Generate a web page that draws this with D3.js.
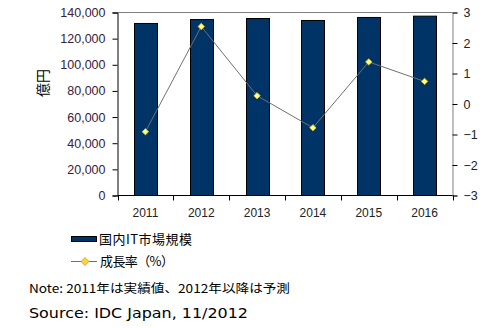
<!DOCTYPE html>
<html><head><meta charset="utf-8">
<script src="https://cdn.jsdelivr.net/npm/d3@7/dist/d3.min.js"></script>
<style>body{margin:0;background:#fff}svg{display:block}</style>
</head><body><svg id="c" width="499" height="328"></svg>
<script>
const years = ["2011","2012","2013","2014","2015","2016"];
const marketSize = [131600, 134600, 135400, 133900, 136200, 137200];
const growthRate = [-0.91, 2.54, 0.27, -0.78, 1.38, 0.74];
const leftTicks = [0,20000,40000,60000,80000,100000,120000,140000];
const rightTicks = [-3,-2,-1,0,1,2,3];
const seriesNames = ["国内IT市場規模","成長率（%）"];
const yAxisTitle = "億円";
const noteText = "Note: 2011年は実績値、2012年以降は予測";
const sourceText = "Source: IDC Japan, 11/2012";

const svg = d3.select("#c");
const L = 117.5, T = 12.5, W = 335, H = 183;
const x = d3.scaleBand().domain(years).range([L, L+W]);
const yL = d3.scaleLinear().domain([0,140000]).range([T+H, T]);
const yR = d3.scaleLinear().domain([-3,3]).range([T+H, T]);
const font = "'Liberation Sans', Arial, sans-serif";
const cjk = "'Noto Sans CJK JP', sans-serif";

svg.append("line").attr("x1",L).attr("x2",L+W).attr("y1",T).attr("y2",T).attr("stroke","#808080");

const bw = 23;
svg.selectAll("rect.bar").data(years).join("rect").attr("class","bar")
  .attr("x", d => Math.round(x(d) + x.bandwidth()/2 - bw/2) + 0.5)
  .attr("y", (d,i) => yL(marketSize[i]))
  .attr("width", bw)
  .attr("height", (d,i) => yL(0) - yL(marketSize[i]))
  .attr("fill","#003366").attr("stroke","#000").attr("stroke-width",1);

const gL = svg.append("g").attr("transform",`translate(${L},0)`)
  .call(d3.axisLeft(yL).tickValues(leftTicks).tickFormat(d3.format(",")).tickSize(5).tickPadding(7));
gL.attr("font-family",font);
gL.select(".domain").attr("stroke","#000");
gL.selectAll(".tick line").attr("stroke","#000");
gL.selectAll("text").attr("font-size","12.5px").attr("fill","#3a2040");

const gR = svg.append("g").attr("transform",`translate(${L+W},0)`)
  .call(d3.axisRight(yR).tickValues(rightTicks).tickSize(5).tickPadding(6).tickFormat(d3.format("d")));
gR.attr("font-family",font);
gR.select(".domain").attr("stroke","#808080");
gR.selectAll(".tick line").attr("stroke","#000");
gR.selectAll("text").attr("font-size","12.5px").attr("fill","#222");

svg.append("line").attr("x1",L).attr("x2",L+W).attr("y1",T+H).attr("y2",T+H).attr("stroke","#000");
const bounds = years.map(d => x(d)).concat([L+W]);
svg.selectAll("line.xt").data(bounds).join("line").attr("class","xt")
  .attr("x1",d=>Math.round(d)+0.5).attr("x2",d=>Math.round(d)+0.5).attr("y1",T+H).attr("y2",T+H+5).attr("stroke","#000");
svg.selectAll("text.xl").data(years).join("text").attr("class","xl")
  .attr("x", d => x(d)+x.bandwidth()/2).attr("y", T+H+21)
  .attr("text-anchor","middle").attr("font-family",font).attr("font-size","12px").attr("fill","#222").text(d=>d);

const line = d3.line().x((d,i)=>x(years[i])+x.bandwidth()/2).y(d=>yR(d));
svg.append("path").datum(growthRate).attr("d",line).attr("fill","none").attr("stroke","#707070").attr("stroke-width",1);
const diamond = d3.symbol().type(d3.symbolDiamond2).size(26);
svg.selectAll("path.mk").data(growthRate).join("path").attr("class","mk")
  .attr("transform",(d,i)=>`translate(${x(years[i])+x.bandwidth()/2},${yR(d)})`)
  .attr("d",diamond).attr("fill","#ffff80").attr("stroke","#e0c030").attr("stroke-width",0.8);

svg.append("text").attr("transform","translate(48,83) rotate(-90)")
  .attr("text-anchor","middle").attr("font-family",cjk).attr("font-size","14px").attr("fill","#000").text(yAxisTitle);

svg.append("rect").attr("x",71.5).attr("y",236.5).attr("width",25).attr("height",5).attr("fill","#003366").attr("stroke","#000");
svg.append("text").attr("x",99).attr("y",244).attr("font-family",cjk).attr("font-size","13px").attr("fill","#000")
  .attr("textLength",93).attr("lengthAdjust","spacing").text(seriesNames[0]);
svg.append("line").attr("x1",71).attr("x2",97).attr("y1",261.5).attr("y2",261.5).attr("stroke","#707070");
svg.append("path").attr("transform","translate(85,261.5)").attr("d",d3.symbol().type(d3.symbolDiamond2).size(40))
  .attr("fill","#ffd040").attr("stroke","#c8a020").attr("stroke-width",0.8);
svg.append("text").attr("x",100).attr("y",266).attr("font-family",cjk).attr("font-size","13px").attr("fill","#000")
  .attr("textLength",74).attr("lengthAdjust","spacing").text(seriesNames[1]);

svg.append("text").attr("x",29).attr("y",293).attr("font-family",cjk).attr("font-size","12px").attr("fill","#000")
  .attr("textLength",261).attr("lengthAdjust","spacingAndGlyphs").text(noteText);
svg.append("text").attr("x",29).attr("y",318).attr("font-family","'DejaVu Sans', Verdana, sans-serif").attr("font-size","14px").attr("fill","#000")
  .attr("textLength",219).attr("lengthAdjust","spacingAndGlyphs").text(sourceText);
</script></body></html>
